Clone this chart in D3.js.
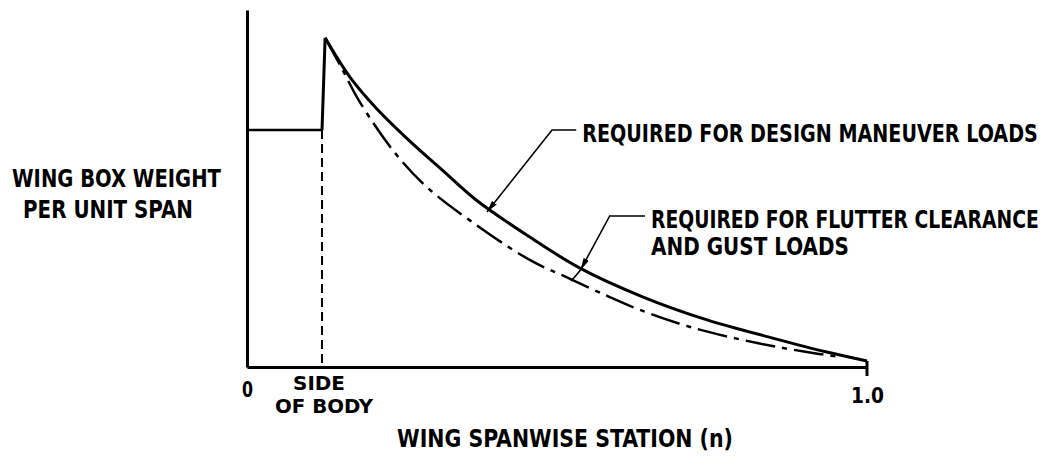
<!DOCTYPE html>
<html>
<head>
<meta charset="utf-8">
<script src="https://cdn.jsdelivr.net/npm/d3@7"></script>
<style>
  html, body { margin: 0; padding: 0; background: #fff; }
  svg { display: block; }
  svg text { font-family: "DejaVu Sans Condensed", "DejaVu Sans", sans-serif; font-weight: bold; fill: #000; }
</style>
</head>
<body>
<div id="chart"></div>
<script>
// wing spanwise station (0 = centreline, 1 = tip) vs relative box weight per unit span
const sideOfBody = 0.121
const bodyWeight = 0.664

const maneuverStation = [0.126, 0.166, 0.210, 0.263, 0.316, 0.368, 0.456, 0.537, 0.639, 0.742, 0.848, 0.935, 1.0]
const maneuverWeight = [0.922, 0.812, 0.722, 0.632, 0.550, 0.470, 0.364, 0.277, 0.196, 0.132, 0.081, 0.042, 0.017]

const flutterStation = [0.126, 0.153, 0.182, 0.239, 0.290, 0.360, 0.456, 0.521, 0.585, 0.634, 0.715, 0.823, 0.903, 0.956]
const flutterWeight = [0.922, 0.836, 0.742, 0.599, 0.504, 0.410, 0.300, 0.247, 0.196, 0.160, 0.112, 0.067, 0.042, 0.028]

const xTicks = [0, 1]
const xTickLabels = ['0', '1.0']

const xTitle = 'WING SPANWISE STATION (n)'
const yTitle = ['WING BOX WEIGHT', 'PER UNIT SPAN']
const sideLabel = ['SIDE', 'OF BODY']

// callouts: arrow tip on the curve (station, weight) and elbow of the leader
const callouts = [
  { lines: ['REQUIRED FOR DESIGN MANEUVER LOADS'], tip: [0.387, 0.434], elbow: [0.492, 0.664], end: [0.531, 0.664], widths: [456] },
  { lines: ['REQUIRED FOR FLUTTER CLEARANCE', 'AND GUST LOADS'], tip: [0.538, 0.272], tail: [0.523, 0.241], elbow: [0.585, 0.423], end: [0.642, 0.423], widths: [388, 198] }
]

const width = 1053
const height = 456

const x = d3.scaleLinear().domain([0, 1]).range([247, 867])
const y = d3.scaleLinear().domain([0, 1]).range([367, 10])

const svg = d3.select('#chart')
  .append('svg')
  .attr('width', width)
  .attr('height', height)

svg.append('rect').attr('width', width).attr('height', height).attr('fill', '#fff')

svg.append('defs')
  .append('marker')
  .attr('id', 'arrow')
  .attr('markerUnits', 'userSpaceOnUse')
  .attr('viewBox', '0 0 12 6')
  .attr('refX', 12)
  .attr('refY', 3)
  .attr('markerWidth', 12)
  .attr('markerHeight', 6)
  .attr('orient', 'auto')
  .append('path')
  .attr('d', 'M0,0L12,3L0,6Z')
  .attr('fill', '#000')

// squeeze a text horizontally to the width it has in the drawing
function squeeze (sel, widthOf) {
  sel.each(function (d, i) {
    const t = d3.select(this)
    const w = this.getComputedTextLength()
    const s = widthOf(d, i) / w
    const tx = +t.attr('x') || 0
    const ty = +t.attr('y') || 0
    t.attr('transform', `translate(${tx},${ty}) scale(${s},1) translate(${-tx},${-ty})`)
  })
}

// axes
const xAxis = d3.axisBottom(x)
  .tickValues(xTicks)
  .tickFormat((d, i) => xTickLabels[i])
  .tickSize(0)
  .tickSizeOuter(0)

const gx = svg.append('g')
  .attr('class', 'x-axis')
  .attr('transform', `translate(0, ${y(0)})`)
  .call(xAxis)
gx.select('.domain').attr('stroke', '#000').attr('stroke-width', 3)
gx.selectAll('.tick text')
  .attr('x', 0)
  .attr('y', (d, i) => [30, 36][i])
  .attr('dy', 0)
  .attr('font-size', 22)
  .call(squeeze, (d, i) => [11, 33][i])

const yAxis = d3.axisLeft(y).tickValues([]).tickSizeOuter(0)
const gy = svg.append('g')
  .attr('class', 'y-axis')
  .attr('transform', `translate(${x(0)}, 0)`)
  .call(yAxis)
gy.select('.domain').attr('stroke', '#000').attr('stroke-width', 3)

const line = d3.line()
  .x(d => x(d[0]))
  .y(d => y(d[1]))

// body section: flat weight out to the side of body, then the jump
svg.append('path')
  .attr('d', line([[0, bodyWeight], [sideOfBody, bodyWeight]]))
  .attr('fill', 'none')
  .attr('stroke', '#000')
  .attr('stroke-width', 2.5)

svg.append('path')
  .attr('d', line([[sideOfBody, bodyWeight], [maneuverStation[0], maneuverWeight[0]]]))
  .attr('fill', 'none')
  .attr('stroke', '#000')
  .attr('stroke-width', 3)

// side of body marker
svg.append('path')
  .attr('d', line([[sideOfBody, bodyWeight], [sideOfBody, 0]]))
  .attr('fill', 'none')
  .attr('stroke', '#000')
  .attr('stroke-width', 2)
  .attr('stroke-dasharray', '9,5')

const curve = d3.line()
  .x(d => x(d[0]))
  .y(d => y(d[1]))
  .curve(d3.curveCatmullRom.alpha(0.5))

// design maneuver loads (solid)
svg.append('path')
  .attr('d', curve(maneuverStation.map((s, i) => [s, maneuverWeight[i]])))
  .attr('fill', 'none')
  .attr('stroke', '#000')
  .attr('stroke-width', 3)

// flutter clearance and gust loads (dash-dot)
svg.append('path')
  .attr('d', curve(flutterStation.map((s, i) => [s, flutterWeight[i]])))
  .attr('fill', 'none')
  .attr('stroke', '#000')
  .attr('stroke-width', 2.5)
  .attr('stroke-dasharray', '30,7,5,7')

// tip closure
const tipW = maneuverWeight[maneuverWeight.length - 1]
svg.append('line')
  .attr('x1', x(1)).attr('x2', x(1))
  .attr('y1', y(tipW)).attr('y2', y(0) + 9)
  .attr('stroke', '#000')
  .attr('stroke-width', 3)

// side of body label
svg.append('g')
  .selectAll('text')
  .data(sideLabel)
  .join('text')
  .attr('x', (d, i) => x(sideOfBody) + [-3, 2][i])
  .attr('y', (d, i) => y(0) + 23 + i * 23)
  .attr('text-anchor', 'middle')
  .attr('font-size', 19)
  .text(d => d)
  .call(squeeze, (d, i) => [52, 98][i])

// axis titles
svg.append('text')
  .attr('x', 565)
  .attr('y', 447)
  .attr('text-anchor', 'middle')
  .attr('font-size', 24)
  .text(xTitle)
  .call(squeeze, () => 336)

svg.append('g')
  .selectAll('text')
  .data(yTitle)
  .join('text')
  .attr('x', (d, i) => [12, 23][i])
  .attr('y', (d, i) => [187, 218][i])
  .attr('font-size', 24)
  .text(d => d)
  .call(squeeze, (d, i) => [209, 170][i])

// callouts
callouts.forEach(c => {
  svg.append('path')
    .attr('d', line([c.end, c.elbow, c.tip]))
    .attr('fill', 'none')
    .attr('stroke', '#000')
    .attr('stroke-width', 1.6)
    .attr('marker-end', 'url(#arrow)')
  if (c.tail) {
    svg.append('path')
      .attr('d', line([c.tip, c.tail]))
      .attr('fill', 'none')
      .attr('stroke', '#000')
      .attr('stroke-width', 1.6)
  }
  svg.append('g')
    .selectAll('text')
    .data(c.lines)
    .join('text')
    .attr('x', x(c.end[0]) + 6)
    .attr('y', (d, i) => y(c.end[1]) + 12 + i * 27)
    .attr('font-size', 24)
    .text(d => d)
    .call(squeeze, (d, i) => c.widths[i])
})
</script>
</body>
</html>
